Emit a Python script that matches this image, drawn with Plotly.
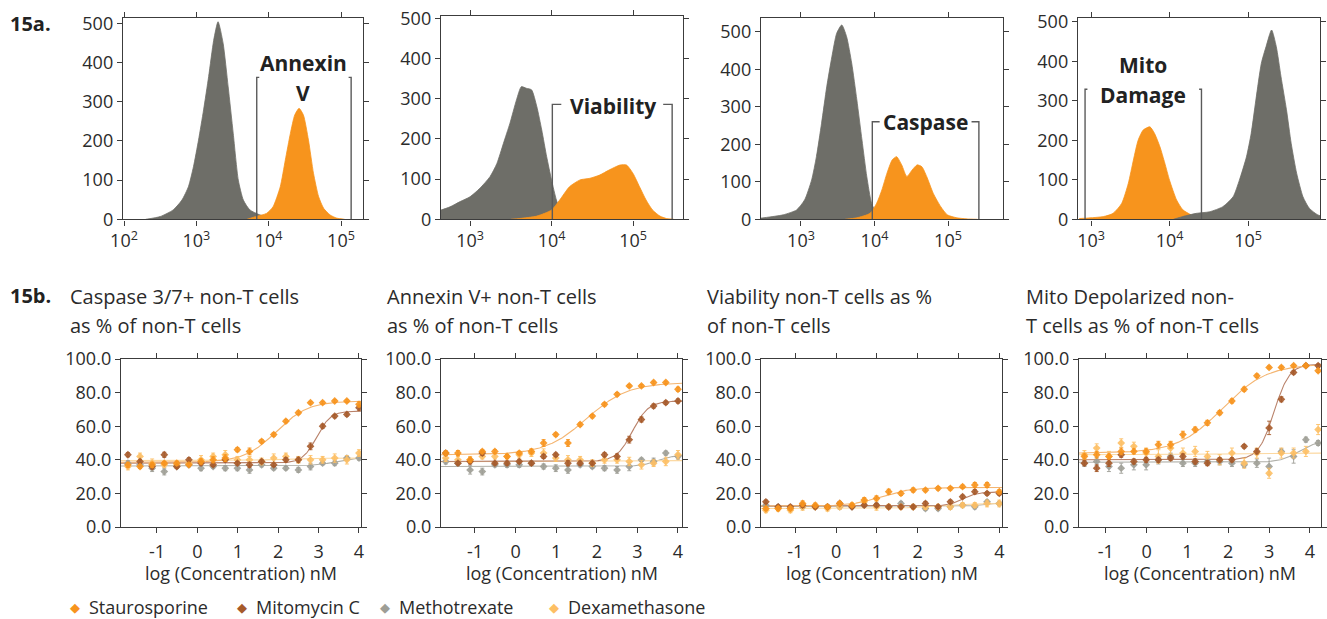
import numpy as np
import plotly.graph_objects as go

W, H = 1327, 619
FONT = "Open Sans"
INK = "#2b2b2b"
FRAME = "#3c3c3c"

# ---------------- 15a: flow cytometry histograms ----------------
# x = log10 fluorescence intensity, y = cell count
annexin_neg_logx = [2.30, 2.50, 2.68, 2.80, 2.89, 2.96, 3.03, 3.10, 3.17, 3.24, 3.30, 3.37, 3.44, 3.51, 3.58, 3.65, 3.74, 3.88, 4.06, 4.20]
annexin_neg_count = [0, 7, 24, 49, 83, 134, 202, 279, 364, 457, 504, 449, 338, 219, 100, 49, 24, 11, 3, 0]
annexin_pos_logx = [3.70, 3.84, 3.97, 4.06, 4.16, 4.23, 4.30, 4.36, 4.42, 4.48, 4.55, 4.62, 4.69, 4.76, 4.85, 4.94, 5.05]
annexin_pos_count = [0, 8, 15, 32, 83, 151, 219, 266, 283, 266, 202, 117, 58, 28, 11, 3, 0]

viability_neg_logx = [2.60, 2.755, 2.878, 3.00, 3.12, 3.245, 3.33, 3.41, 3.49, 3.57, 3.63, 3.69, 3.755, 3.82, 3.88, 3.94, 4.00, 4.06, 4.12, 4.22, 4.39, 4.50]
viability_neg_count = [20, 31, 44, 56, 77, 106, 139, 189, 239, 297, 330, 326, 322, 280, 222, 156, 98, 48, 19, 7, 2, 0]
viability_pos_logx = [3.50, 3.61, 3.82, 4.00, 4.10, 4.22, 4.35, 4.47, 4.59, 4.71, 4.84, 4.92, 5.00, 5.08, 5.16, 5.24, 5.33, 5.41, 5.50]
viability_pos_count = [0, 2, 8, 23, 48, 81, 98, 102, 110, 123, 135, 135, 114, 81, 48, 23, 8, 2, 0]

caspase_neg_logx = [2.40, 2.53, 2.76, 2.94, 3.05, 3.145, 3.21, 3.28, 3.35, 3.42, 3.486, 3.555, 3.62, 3.69, 3.76, 3.83, 3.895, 3.96, 4.03, 4.17, 4.30, 4.45]
caspase_neg_count = [2, 5, 12, 25, 52, 105, 167, 256, 353, 433, 496, 518, 487, 416, 318, 211, 114, 43, 16, 5, 2, 0]
caspase_pos_logx = [3.60, 3.76, 3.94, 4.03, 4.10, 4.17, 4.24, 4.30, 4.37, 4.44, 4.51, 4.58, 4.645, 4.71, 4.80, 4.90, 4.99, 5.12, 5.26, 5.40]
caspase_pos_count = [0, 4, 16, 43, 78, 123, 158, 167, 145, 114, 131, 145, 140, 114, 69, 34, 12, 4, 1, 0]

mito_pos_logx = [2.85, 2.945, 3.16, 3.28, 3.39, 3.475, 3.54, 3.60, 3.665, 3.75, 3.81, 3.877, 3.94, 4.00, 4.09, 4.17, 4.28, 4.40, 4.55]
mito_pos_count = [2, 3, 7, 15, 40, 91, 150, 200, 226, 234, 217, 184, 142, 99, 49, 24, 11, 5, 0]
mito_neg_logx = [4.05, 4.17, 4.34, 4.51, 4.68, 4.81, 4.89, 4.98, 5.04, 5.10, 5.17, 5.23, 5.30, 5.36, 5.42, 5.49, 5.55, 5.62, 5.70, 5.78, 5.89, 6.00]
mito_neg_count = [0, 7, 15, 19, 32, 57, 99, 158, 217, 302, 395, 437, 479, 437, 361, 277, 192, 116, 57, 28, 11, 5]

# gates: (low log10, high log10, bracket height, serif length in decades)
annexin_gate = (3.835, 5.14, 362, 0.035)
viability_gate = (4.01, 5.48, 286, 0.11)
caspase_gate = (3.97, 5.42, 260, 0.10)
mito_gate = (2.924, 4.407, 329, 0.03)

# ---------------- 15b: dose-response (log nM) ----------------
log_conc = [-1.72, -1.42, -1.12, -0.82, -0.51, -0.21, 0.09, 0.39, 0.69, 0.99,
            1.29, 1.59, 1.89, 2.19, 2.50, 2.80, 3.10, 3.40, 3.70, 4.00]
log_conc_mito = [-1.52, -1.22, -0.92, -0.62, -0.31, -0.01, 0.29, 0.59, 0.89, 1.19,
                 1.49, 1.79, 2.09, 2.39, 2.70, 3.00, 3.30, 3.60, 3.90, 4.20]

casp_stau = [37, 36, 37, 38, 38, 37, 39, 40, 41, 46, 45, 51, 55, 63, 68, 74, 74, 75, 75, 73]
casp_mitc = [43, 39, 36, 43, 36, 40, 38, 37, 40, 38, 37, 39, 37, 40, 40, 48, 60, 66, 67, 71]
casp_meth = [38, 37, 35, 33, 36, 37, 35, 36, 35, 35, 34, 37, 35, 35, 34, 36, 38, 38, 41, 41]
casp_dexa = [36, 42, 38, 37, 37, 38, 40, 42, 43, 40, 40, 39, 41, 42, 40, 40, 40, 41, 40, 44]
casp_stau_err = [1.5, 1.2, 1.5, 1.0, 1.2, 1.0, 1.5, 1.8, 2.0, 1.2, 2.0, 1.0, 1.0, 1.0, 1.0, 0.8, 0.8, 0.8, 0.8, 1.5]
casp_mitc_err = [1.2, 1.0, 1.5, 1.5, 1.0, 1.2, 1.0, 1.0, 1.2, 1.0, 1.5, 1.0, 1.0, 1.2, 1.5, 2.0, 1.2, 1.0, 1.0, 1.5]
casp_meth_err = [1.5, 1.2, 2.0, 2.0, 1.2, 1.2, 1.5, 1.0, 1.5, 1.5, 2.0, 1.2, 1.0, 1.0, 1.5, 2.0, 1.0, 1.5, 1.0, 1.2]
casp_dexa_err = [2.0, 2.0, 2.5, 1.5, 2.0, 1.5, 2.5, 2.0, 2.5, 2.0, 2.0, 2.0, 2.5, 2.0, 2.0, 2.5, 2.0, 2.5, 2.5, 2.0]

annx_stau = [44, 44, 40, 45, 45, 42, 44, 45, 50, 55, 50, 61, 66, 73, 79, 84, 84, 86, 86, 82]
annx_mitc = [44, 38, 39, 44, 38, 38, 39, 38, 42, 43, 38, 38, 38, 43, 42, 52, 64, 72, 74, 75]
annx_meth = [39, 38, 34, 33, 37, 37, 37, 38, 36, 35, 34, 37, 36, 35, 34, 36, 40, 39, 44, 42]
annx_dexa = [41, 40, 40, 42, 42, 42, 43, 44, 44, 41, 40, 40, 38, 40, 40, 39, 37, 38, 39, 43]
annx_stau_err = [1.2, 1.5, 1.5, 1.0, 1.0, 1.2, 1.0, 1.5, 2.0, 1.0, 2.0, 1.0, 1.0, 1.0, 1.0, 0.8, 0.8, 0.8, 0.8, 1.2]
annx_mitc_err = [1.2, 1.0, 1.5, 1.5, 1.0, 1.2, 1.0, 1.2, 1.2, 1.0, 1.5, 1.2, 1.0, 1.2, 1.5, 2.0, 1.5, 1.2, 1.0, 1.2]
annx_meth_err = [1.5, 1.2, 2.5, 2.0, 1.2, 1.5, 1.5, 1.0, 1.5, 2.0, 2.0, 1.2, 1.2, 1.5, 2.0, 2.5, 1.0, 2.0, 1.2, 1.5]
annx_dexa_err = [2.0, 2.0, 2.0, 1.5, 1.5, 1.5, 2.0, 2.0, 2.5, 2.0, 2.5, 2.0, 2.0, 2.0, 2.0, 2.5, 2.5, 2.0, 2.5, 2.5]

viab_stau = [11, 11, 11, 14, 13, 12, 14, 13, 16, 17, 21, 20, 22, 22, 23, 23, 24, 25, 25, 21]
viab_mitc = [15, 12, 12, 13, 12, 12, 14, 12, 13, 13, 12, 12, 12, 14, 12, 15, 18, 21, 20, 20]
viab_meth = [13, 12, 11, 12, 12, 12, 12, 12, 13, 13, 12, 14, 12, 11, 11, 12, 13, 12, 15, 14]
viab_dexa = [10, 11, 10, 12, 12, 11, 12, 13, 15, 12, 12, 12, 12, 12, 12, 12, 13, 13, 14, 14]
viab_stau_err = [1.0, 1.2, 1.0, 1.5, 1.2, 1.0, 1.2, 1.0, 1.5, 1.5, 1.5, 1.2, 1.2, 1.0, 1.0, 1.0, 1.0, 1.5, 1.5, 1.2]
viab_mitc_err = [1.0, 1.0, 1.0, 1.2, 1.0, 1.0, 1.2, 1.0, 1.0, 1.0, 1.0, 1.0, 1.0, 1.2, 1.0, 1.0, 1.0, 1.2, 1.0, 1.0]
viab_meth_err = [1.2, 1.0, 1.2, 1.0, 1.0, 1.0, 1.2, 1.0, 1.0, 1.2, 1.0, 1.2, 1.0, 1.2, 1.2, 1.2, 1.0, 1.2, 1.0, 1.0]
viab_dexa_err = [1.5, 1.5, 1.5, 2.0, 1.5, 1.5, 1.5, 1.5, 2.0, 2.0, 1.5, 1.5, 1.5, 1.5, 1.5, 1.5, 1.5, 1.5, 2.0, 2.0]

mito_stau = [42, 43, 42, 45, 45, 45, 49, 49, 55, 58, 62, 68, 75, 82, 90, 95, 95, 96, 96, 93]
mito_mitc = [38, 35, 38, 43, 39, 40, 40, 41, 42, 39, 38, 40, 40, 48, 45, 59, 76, 92, 96, 96]
mito_meth = [38, 39, 36, 35, 37, 37, 40, 42, 38, 38, 39, 39, 38, 37, 38, 36, 45, 42, 52, 50]
mito_dexa = [43, 47, 42, 50, 48, 44, 42, 47, 44, 45, 42, 40, 44, 38, 44, 32, 44, 44, 45, 58]
mito_stau_err = [1.5, 2.0, 1.5, 2.0, 1.5, 1.5, 2.0, 2.0, 2.0, 1.5, 1.5, 1.2, 1.2, 1.2, 1.0, 0.8, 0.8, 0.8, 0.8, 1.0]
mito_mitc_err = [1.5, 2.0, 2.0, 1.5, 1.5, 1.5, 1.5, 1.5, 1.5, 1.5, 1.5, 1.2, 1.2, 1.0, 1.5, 4.0, 1.5, 1.0, 1.0, 1.0]
mito_meth_err = [2.0, 2.5, 3.0, 3.0, 3.0, 3.0, 2.5, 2.0, 2.0, 2.0, 2.0, 2.0, 2.0, 1.5, 2.5, 5.0, 1.5, 4.0, 1.5, 1.5]
mito_dexa_err = [2.5, 2.5, 3.0, 2.5, 2.5, 3.0, 4.0, 3.5, 3.0, 3.0, 3.0, 3.0, 3.0, 3.0, 3.0, 3.0, 3.0, 3.0, 3.0, 3.0]

# 4-parameter logistic fits: (bottom, top, logEC50, hill)
casp_fit = {"stau": (38.5, 75.0, 1.95, 1.1), "mitc": (38.0, 69.0, 2.95, 2.5),
            "meth": (36.3, 42.0, 3.5, 1.5), "dexa": (39.5, 41.0, 2.0, 1.0)}
annx_fit = {"stau": (43.0, 86.0, 1.75, 0.85), "mitc": (39.0, 75.0, 2.88, 2.2),
            "meth": (36.0, 43.0, 3.5, 2.0), "dexa": (38.8, 39.5, 2.0, 1.0)}
viab_fit = {"stau": (12.5, 23.5, 1.1, 1.2), "mitc": (12.5, 20.8, 3.1, 2.5),
            "meth": (12.3, 14.5, 3.6, 3.0), "dexa": (11.0, 14.0, 2.5, 1.0)}
mito_fit = {"stau": (44.0, 97.0, 1.85, 0.8), "mitc": (40.0, 97.0, 3.12, 2.3),
            "meth": (38.5, 51.0, 3.7, 2.0), "dexa": (43.0, 44.0, 2.0, 1.0)}

drug_names = {"stau": "Staurosporine", "mitc": "Mitomycin C", "meth": "Methotrexate", "dexa": "Dexamethasone"}
marker_color = {"stau": "#F7941D", "mitc": "#A65A2A", "meth": "#9E9E96", "dexa": "#FDBF64"}
curve_color = {"stau": "#F4B571", "mitc": "#B9826A", "meth": "#B0B0A9", "dexa": "#FCD8A0"}

panel_titles = [("Caspase 3/7+ non-T cells", "as % of non-T cells"),
                ("Annexin V+ non-T cells", "as % of non-T cells"),
                ("Viability non-T cells as %", "of non-T cells"),
                ("Mito Depolarized non-", "T cells as % of non-T cells")]

HIST_GRAY = "#6E6E68"
HIST_ORANGE = "#F7941D"


def fx(a, b):
    return [a / W, b / W]


def fy(top, bottom):
    return [1 - bottom / H, 1 - top / H]


fig = go.Figure()

# axis frames: (x pixel span, y pixel span, x range, y range, decade ticks)
top_frames = [((123, 363), (18.3, 219.3), (1.986, 5.304), (0, 512.8), [2, 3, 4, 5]),
              ((441, 683), (15.7, 219.3), (2.644, 5.613), (0, 506.5), [3, 4, 5]),
              ((761, 1003), (18.3, 219.3), (2.456, 5.748), (0, 535.7), [3, 4, 5]),
              ((1078, 1320), (18.3, 219.3), (2.834, 5.917), (0, 508.6), [3, 4, 5])]
bot_frames = [((121, 361), (359, 527), (-1.891, 4.05)),
              ((441, 682), (359, 527), (-1.837, 4.099)),
              ((761, 1002), (359, 527), (-1.84, 4.066)),
              ((1079, 1321), (359, 527), (-1.653, 4.27))]

axis_base = dict(showline=True, linecolor=FRAME, linewidth=1.4, mirror="allticks",
                 ticks="outside", ticklen=5, tickwidth=1.1, tickcolor=FRAME,
                 showgrid=False, zeroline=False, fixedrange=True, automargin=False,
                 tickfont=dict(family=FONT, size=18, color=INK))

layout_axes = {}
for i, (xs, ys, xr, yr, dec) in enumerate(top_frames):
    n = i + 1
    sfx = "" if n == 1 else str(n)
    layout_axes["xaxis" + sfx] = dict(axis_base, domain=fx(*xs), range=list(xr), anchor="y" + sfx,
                                      tickvals=dec, ticktext=["10<sup>%d</sup>" % d for d in dec])
    layout_axes["yaxis" + sfx] = dict(axis_base, domain=fy(*ys), range=list(yr), anchor="x" + sfx,
                                      tickvals=[0, 100, 200, 300, 400, 500])
for i, (xs, ys, xr) in enumerate(bot_frames):
    n = i + 5
    sfx = str(n)
    layout_axes["xaxis" + sfx] = dict(axis_base, domain=fx(*xs), range=list(xr), anchor="y" + sfx,
                                      tickvals=[-1, 0, 1, 2, 3, 4],
                                      ticktext=["-1", "0", "1", "2", "3", "4"], ticklabelstandoff=3)
    layout_axes["yaxis" + sfx] = dict(axis_base, domain=fy(*ys), range=[0, 100], anchor="x" + sfx,
                                      tickvals=[0, 20, 40, 60, 80, 100], tickformat=".1f")


def hist(logx, counts, color, n):
    sfx = "" if n == 1 else str(n)
    fig.add_trace(go.Scatter(x=logx, y=counts, mode="lines",
                             line=dict(color=color, width=0.8, shape="spline", smoothing=0.6),
                             fill="tozeroy", fillcolor=color, xaxis="x" + sfx, yaxis="y" + sfx,
                             showlegend=False, hoverinfo="skip"))


def gate(g, n):
    lo, hi, top, serif = g
    sfx = "" if n == 1 else str(n)
    fig.add_trace(go.Scatter(x=[lo + serif, lo, lo, None, hi - serif, hi, hi],
                             y=[top, top, 0, None, top, top, 0], mode="lines",
                             line=dict(color="#5a5a5a", width=1.4),
                             xaxis="x" + sfx, yaxis="y" + sfx, showlegend=False, hoverinfo="skip"))


hist(annexin_neg_logx, annexin_neg_count, HIST_GRAY, 1)
hist(annexin_pos_logx, annexin_pos_count, HIST_ORANGE, 1)
gate(annexin_gate, 1)
hist(viability_neg_logx, viability_neg_count, HIST_GRAY, 2)
hist(viability_pos_logx, viability_pos_count, HIST_ORANGE, 2)
gate(viability_gate, 2)
hist(caspase_neg_logx, caspase_neg_count, HIST_GRAY, 3)
hist(caspase_pos_logx, caspase_pos_count, HIST_ORANGE, 3)
gate(caspase_gate, 3)
hist(mito_pos_logx, mito_pos_count, HIST_ORANGE, 4)
hist(mito_neg_logx, mito_neg_count, HIST_GRAY, 4)
gate(mito_gate, 4)

# gate labels
gate_labels = [(1, 4.48, 398, "Annexin"), (1, 4.48, 321, "V"),
               (2, 4.755, 282, "Viability"), (3, 4.69, 260, "Caspase"),
               (4, 3.665, 390, "Mito"), (4, 3.665, 314, "Damage")]
annotations = []
for n, lx, ly, txt in gate_labels:
    sfx = "" if n == 1 else str(n)
    annotations.append(dict(x=lx, y=ly, xref="x" + sfx, yref="y" + sfx, text="<b>%s</b>" % txt,
                            showarrow=False, font=dict(family=FONT, size=21, color="#222222")))


def fourpl(p, x):
    b, t, ec, h = p
    return b + (t - b) / (1 + 10 ** ((ec - x) * h))


panels = [
    (log_conc, {"stau": casp_stau, "mitc": casp_mitc, "meth": casp_meth, "dexa": casp_dexa},
     {"stau": casp_stau_err, "mitc": casp_mitc_err, "meth": casp_meth_err, "dexa": casp_dexa_err}, casp_fit),
    (log_conc, {"stau": annx_stau, "mitc": annx_mitc, "meth": annx_meth, "dexa": annx_dexa},
     {"stau": annx_stau_err, "mitc": annx_mitc_err, "meth": annx_meth_err, "dexa": annx_dexa_err}, annx_fit),
    (log_conc, {"stau": viab_stau, "mitc": viab_mitc, "meth": viab_meth, "dexa": viab_dexa},
     {"stau": viab_stau_err, "mitc": viab_mitc_err, "meth": viab_meth_err, "dexa": viab_dexa_err}, viab_fit),
    (log_conc_mito, {"stau": mito_stau, "mitc": mito_mitc, "meth": mito_meth, "dexa": mito_dexa},
     {"stau": mito_stau_err, "mitc": mito_mitc_err, "meth": mito_meth_err, "dexa": mito_dexa_err}, mito_fit),
]

draw_order = ["meth", "dexa", "mitc", "stau"]
for i, (xv, vals, errs, fits) in enumerate(panels):
    n = i + 5
    xr = bot_frames[i][2]
    xx = np.linspace(xr[0], xr[1], 300)
    for key in draw_order:
        fig.add_trace(go.Scatter(x=xx, y=fourpl(fits[key], xx), mode="lines",
                                 line=dict(color=curve_color[key], width=1.1),
                                 xaxis="x%d" % n, yaxis="y%d" % n, showlegend=False, hoverinfo="skip"))
    for key in draw_order:
        fig.add_trace(go.Scatter(x=xv, y=vals[key], mode="markers", name=drug_names[key],
                                 marker=dict(symbol="diamond", size=6, color=marker_color[key], opacity=0.9),
                                 error_y=dict(type="data", array=errs[key], thickness=0.9, width=2,
                                              color=marker_color[key]),
                                 xaxis="x%d" % n, yaxis="y%d" % n, showlegend=False))

# panel headings
annotations.append(dict(x=8 / W, y=1 - 23 / H, xref="paper", yref="paper", xanchor="left", yanchor="middle",
                        text="<b>15a.</b>", showarrow=False, font=dict(family=FONT, size=20, color="#222222")))
annotations.append(dict(x=8 / W, y=1 - 295 / H, xref="paper", yref="paper", xanchor="left", yanchor="middle",
                        text="<b>15b.</b>", showarrow=False, font=dict(family=FONT, size=20, color="#222222")))
title_left = [68, 385, 705, 1024]
for (l1, l2), xl in zip(panel_titles, title_left):
    for txt, yc in ((l1, 296), (l2, 325)):
        annotations.append(dict(x=xl / W, y=1 - yc / H, xref="paper", yref="paper", xanchor="left",
                                yanchor="middle", text=txt, showarrow=False,
                                font=dict(family=FONT, size=20, color=INK)))
for i in range(4):
    annotations.append(dict(x=0.5, y=1 - 573 / H, xref="x%d domain" % (i + 5), yref="paper",
                            xanchor="center", yanchor="middle", text="log (Concentration) nM",
                            showarrow=False, font=dict(family=FONT, size=18, color=INK)))

# legend row
legend_pos = [("stau", 75), ("mitc", 242), ("meth", 385), ("dexa", 554)]
for key, xd in legend_pos:
    annotations.append(dict(x=xd / W, y=1 - 607 / H, xref="paper", yref="paper", xanchor="center",
                            yanchor="middle", text="◆", showarrow=False,
                            font=dict(family="DejaVu Sans", size=13, color=marker_color[key])))
    annotations.append(dict(x=(xd + 12) / W, y=1 - 607 / H, xref="paper", yref="paper", xanchor="left",
                            yanchor="middle", text=drug_names[key], showarrow=False,
                            font=dict(family=FONT, size=18, color=INK)))

fig.update_layout(width=W, height=H, margin=dict(l=0, r=0, t=0, b=0, pad=0, autoexpand=False),
                  paper_bgcolor="white", plot_bgcolor="white", showlegend=False,
                  annotations=annotations, **layout_axes)

fig.write_html("out.html")
